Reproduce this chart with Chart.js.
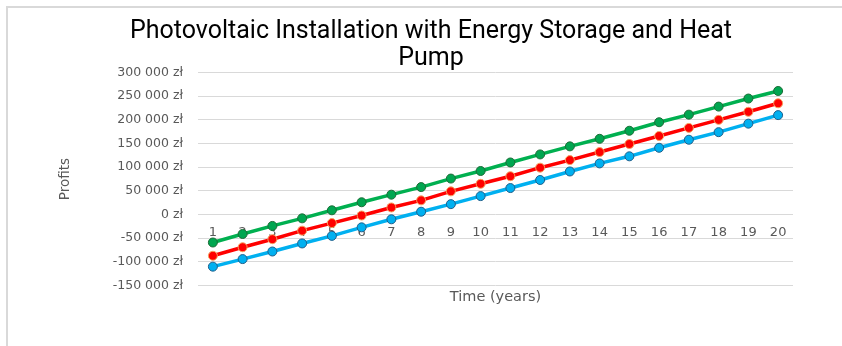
<!DOCTYPE html>
<html>
<head>
<meta charset="utf-8">
<script src="https://cdn.jsdelivr.net/npm/chart.js@4.4.1/dist/chart.umd.min.js"></script>
<style>
  html, body { margin: 0; padding: 0; background: #fff; }
  #wrap { position: relative; width: 842px; height: 346px; overflow: hidden; }
  #frame { position: absolute; left: 6px; top: 6px; width: 900px; height: 400px;
           border-top: 2px solid #d9d9d9; border-left: 2px solid #d9d9d9; }
  #chart { position: absolute; left: 0; top: 0; }
</style>
</head>
<body>
<div id="wrap">
  <div id="frame"></div>
  <canvas id="chart" width="842" height="346"></canvas>
</div>
<script>
// years on the x axis
const years = ['1','2','3','4','5','6','7','8','9','10','11','12','13','14','15','16','17','18','19','20'];

// cumulative profits (zł)
const greenProfits = [-59000, -41000, -24000, -8000, 9000, 26000, 42000, 58000, 76000, 92000,
                      110000, 127000, 144000, 160000, 177000, 195000, 211000, 228000, 245000, 261000];
const redProfits   = [-87000, -69000, -52000, -34000, -18000, -2000, 15000, 30000, 49000, 65000,
                      81000, 99000, 115000, 132000, 149000, 166000, 183000, 200000, 217000, 235000];
const blueProfits  = [-110000, -94000, -78000, -61000, -45000, -27000, -10000, 6000, 22000, 39000,
                      56000, 73000, 91000, 108000, 123000, 141000, 158000, 174000, 192000, 210000];

const titleLines = ['Photovoltaic Installation with Energy Storage and Heat', 'Pump'];
const grey = '#595959';
const axisFont = "'DejaVu Sans', sans-serif";

// "300 000 zł" style labels
function formatZl(v) {
    const s = String(Math.abs(v)).replace(/\B(?=(\d{3})+(?!\d))/g, '\u00a0');
    return (v < 0 ? '-' : '') + s + '\u00a0zł';
}

function series(data, line, fill, edge) {
    return {
        data: data,
        borderColor: line,
        borderWidth: 3.5,
        pointRadius: 4.5,
        pointBackgroundColor: fill,
        pointBorderColor: edge,
        pointBorderWidth: 1,
        tension: 0,
        xAxisID: 'x',
        yAxisID: 'y'
    };
}

new Chart(document.getElementById('chart'), {
    type: 'line',
    data: {
        labels: years,
        datasets: [
            series(blueProfits, '#00B0F0', '#00B0F0', '#1f5f8b'),
            series(redProfits, '#FF0000', '#FF0000', '#F4A460'),
            series(greenProfits, '#00B050', '#00A650', '#1d6b37')
        ]
    },
    options: {
        responsive: false,
        animation: false,
        layout: { padding: { left: 20, right: 0, top: 3, bottom: 36 } },
        plugins: {
            legend: { display: false },
            tooltip: { enabled: false },
            title: {
                display: true,
                text: titleLines,
                color: '#000',
                font: { family: "'Roboto', sans-serif", size: 25, weight: 'normal', lineHeight: 1.08 },
                padding: { top: 15.5, bottom: 0 }
            }
        },
        scales: {
            x: {
                type: 'category',
                offset: true,
                position: { y: 0 },
                z: 1,
                grid: { display: false, drawTicks: false },
                border: { display: false },
                ticks: { color: grey, padding: 10, maxRotation: 0, autoSkip: false,
                         font: { family: axisFont, size: 13 } }
            },
            x2: {
                type: 'category',
                labels: years,
                offset: true,
                position: 'bottom',
                grid: { display: false, drawTicks: false },
                border: { display: false },
                ticks: { display: false },
                title: { display: true, text: 'Time (years)', color: grey,
                         font: { family: axisFont, size: 14.5 }, padding: { top: 3, bottom: 4 } }
            },
            y: {
                position: 'left',
                min: -150000,
                max: 300000,
                afterFit: s => { s.width = 178; },
                grid: { color: '#d9d9d9', lineWidth: 1, drawTicks: false },
                border: { display: false },
                ticks: { stepSize: 50000, color: grey, padding: 15, callback: v => formatZl(v),
                         font: { family: axisFont, size: 12.5 } },
                title: { display: true, text: 'Profits', color: grey,
                         font: { family: axisFont, size: 13.5 }, padding: { top: 37, bottom: 0 } }
            },
            y2: {
                position: 'right',
                min: -150000,
                max: 300000,
                afterFit: s => { s.width = 49; },
                grid: { display: false, drawTicks: false },
                border: { display: false },
                ticks: { display: false }
            }
        }
    }
});
</script>
</body>
</html>
